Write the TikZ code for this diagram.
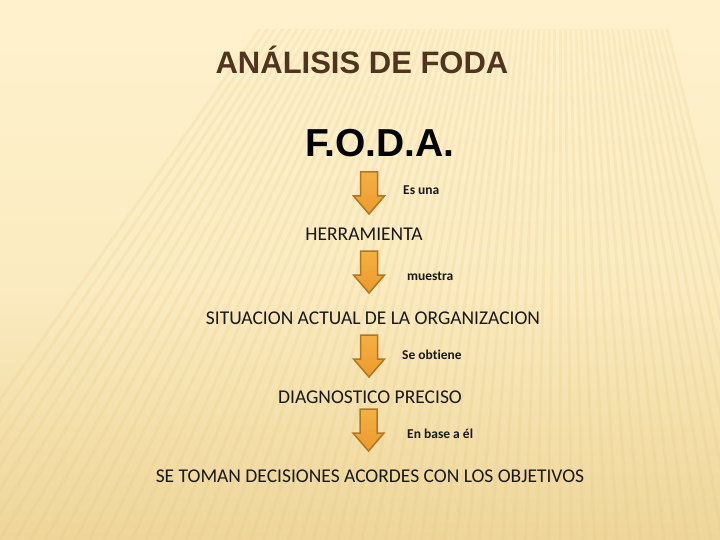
\documentclass[tikz,border=0pt]{standalone}
\usepackage{fontspec}
\setmainfont[RawFeature=-liga]{Carlito}
\newfontfamily\arialfont{Liberation Sans}
\definecolor{bgtop}{HTML}{FEF1CC}
\definecolor{bgmid}{HTML}{FBEBC0}
\definecolor{bgbot}{HTML}{EED699}
\definecolor{stripe}{HTML}{E2C27A}
\definecolor{titlebrown}{HTML}{50341E}
\definecolor{arrowfilltop}{HTML}{F4B044}
\definecolor{arrowfillbot}{HTML}{EC9A2C}
\definecolor{arrowline}{HTML}{B27620}
\tikzset{
  body/.style={font=\fontsize{19.5}{22}\selectfont, text=black!90, inner sep=0pt},
  lbl/.style={font=\bfseries\fontsize{13.5}{15}\selectfont, text=black!90, inner sep=0pt, anchor=west},
  blockarrow/.style={top color=arrowfilltop, bottom color=arrowfillbot, draw=arrowline, line width=1.5pt, line join=miter},
}
\newcommand\downarrowat[1]{%
  \draw[blockarrow, shift={(#1)}] (-8.5,0) -- (8.5,0) -- (8.5,24) -- (15.5,24) -- (0,42) -- (-15.5,24) -- (-8.5,24) -- cycle;}
\begin{document}
\begin{tikzpicture}[x=1pt,y=-1pt]
\useasboundingbox (0,0) rectangle (720,540);
% background
\fill[bgtop] (0,0) rectangle (720,540);
\shade[top color=bgtop, bottom color=bgbot, middle color=bgmid] (0,30) rectangle (720,540);
\begin{scope}
  \clip (0,30) rectangle (720,540);
  \coordinate (vp) at (560,-400);
  \foreach \a in {76,76.7,...,125}{
    \draw[stripe, line width=3pt, opacity=0.16] (vp) -- ++(\a:1300);
  }
\end{scope}
% title
\node[font=\arialfont\bfseries\fontsize{31}{34}\selectfont, text=titlebrown, inner sep=0pt] (title) at (362,60) {ANÁLISIS DE FODA};
\node[font=\arialfont\bfseries\fontsize{39}{42}\selectfont, text=black, inner sep=0pt] (foda) at (380,143) {F.O.D.A.};
% arrows
\coordinate (a1) at (369,172);
\coordinate (a2) at (369,251);
\coordinate (a3) at (369,335);
\coordinate (a4) at (368.5,409);
\downarrowat{a1}
\downarrowat{a2}
\downarrowat{a3}
\downarrowat{a4}
% labels
\node[lbl] (l1) at (403,190) {Es una};
\node[lbl] (l2) at (407,276) {muestra};
\node[lbl] (l3) at (402,355) {Se obtiene};
\node[lbl] (l4) at (407,434) {En base a él};
% body texts
\node[body] (herr) at (364,234) {HERRAMIENTA};
\node[body] (sit) at (373,318) {SITUACION ACTUAL DE LA ORGANIZACION};
\node[body] (diag) at (370,397) {DIAGNOSTICO PRECISO};
\node[body] (dec) at (370,476) {SE TOMAN DECISIONES ACORDES CON LOS OBJETIVOS};
\end{tikzpicture}
\end{document}
